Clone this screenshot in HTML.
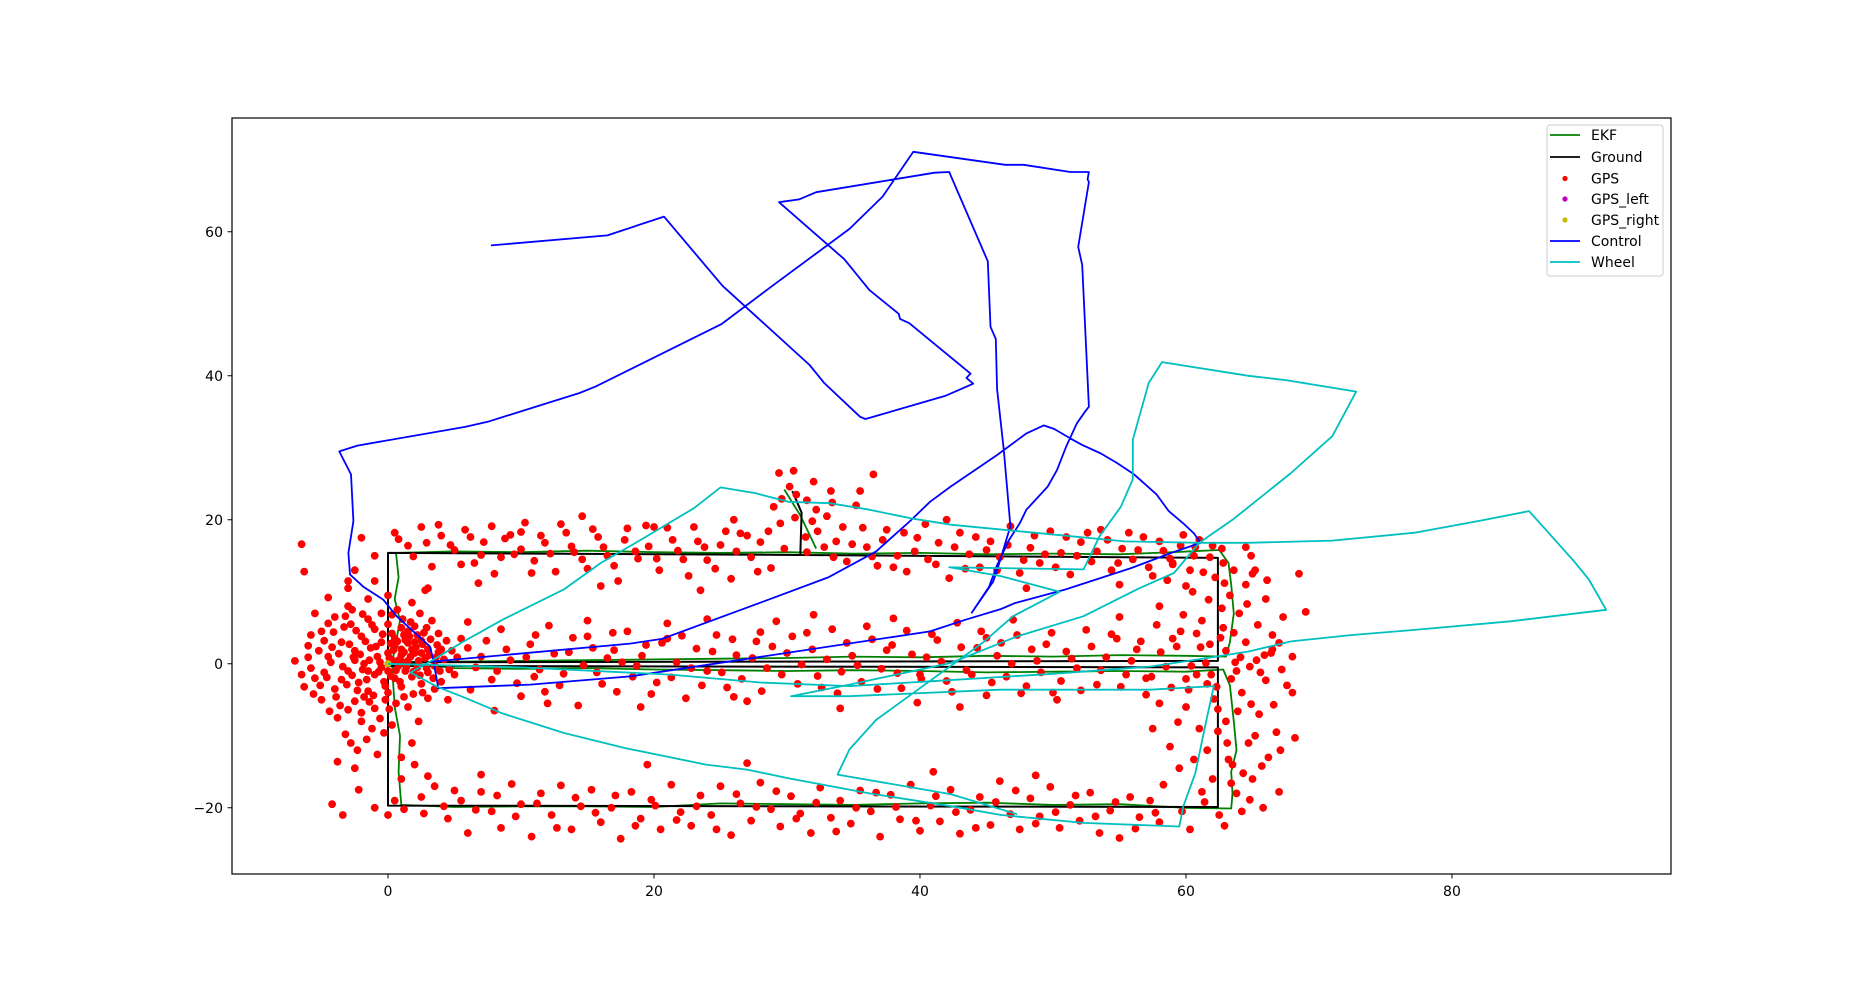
<!DOCTYPE html>
<html><head><meta charset="utf-8"><style>
html,body{margin:0;padding:0;background:#fff;}
svg{display:block;font-family:"DejaVu Sans","Liberation Sans",sans-serif;}
</style></head><body>
<svg id="chart" width="1855" height="982" viewBox="0 0 1855 982" xmlns="http://www.w3.org/2000/svg">
<rect x="0" y="0" width="1855" height="982" fill="#fff"/>
<g id="plot"></g>
<rect x="232" y="118" width="1439" height="756" fill="none" stroke="#000" stroke-width="1.2"/>
<g id="ticks"></g>
<g id="legend"></g>
</svg>
<script>
const xTicks = [0, 20, 40, 60, 80];
const yTicks = [-20, 0, 20, 40, 60];
const xDomain = [-11.73, 96.47];
const yDomain = [-29.2, 75.8];
const legendLabels = ["EKF","Ground","GPS","GPS_left","GPS_right","Control","Wheel"];

const groundPath = [[0,0],[0,15.4],[31,15.1],[62.4,14.7],[62.4,0.4],[0,0.2],null,[0,-0.3],[62.4,-0.5],[62.4,-19.9],[0,-19.7],[0,0],null,[30.4,24],[31.1,21],[31,15.1]];
const ekfPath = [[0.3,0],[0.6,3],[0.9,6],[0.5,9],[0.8,12],[0.6,15.4],[5,15.6],[10,15.5],[15,15.7],[20,15.5],[25,15.4],[30,15.5],[35,15.3],[40,15.4],[45,15.2],[50,15.3],[55,15.2],[59,15.5],[62.5,15.8],[63.2,14],[63.4,11],[63.6,7],[63.3,3],[63,1],[60,1.1],[55,1.2],[50,1.0],[45,1.1],[40,0.9],[35,1.0],[30,0.8],[25,0.7],[20,0.6],[15,0.5],[10,0.4],[5,0.3],[1,0.2],[5,-0.6],[10,-0.7],[15,-0.6],[20,-0.8],[25,-0.9],[30,-1],[35,-0.9],[40,-1.0],[45,-1.2],[50,-1.1],[55,-1.0],[60,-1.1],[62.8,-0.8],[63.3,-3],[63.6,-8],[63.8,-12],[63.4,-15],[63.5,-18],[63.4,-20.1],[60,-20],[55,-19.5],[50,-19.6],[45,-19.3],[40,-19.4],[35,-19.6],[30,-19.5],[25,-19.4],[20,-19.9],[15,-19.8],[10,-19.8],[5,-19.9],[1,-19.6],[0.8,-15],[0.9,-10],[0.5,-6],[0.4,-3],[0.3,0],null,[29.8,24.2],[31,20.6],[32.2,16]];
const controlPath = [[3.3,0.3],[18.2,2.8],[20.6,3.45],[28.6,8.9],[33.1,12.0],[36.7,15.6],[39.3,19.9],[40.75,22.5],[42.3,24.6],[45.8,29.0],[48.0,32.0],[49.3,33.1],[50.1,32.6],[51.3,31.3],[52.2,30.4],[53.6,29.2],[54.8,27.9],[56.1,26.3],[57.8,23.5],[58.7,21.2],[59.8,19.5],[60.6,18.1],[61.1,16.8],[58.9,15.4],[55.9,13.3],[50.9,10.3],[47.1,8.4],[46.1,7.6],[43.4,6.1],[40.75,4.5],[18.2,-1.76],[10.7,-2.9],[3.78,-3.4],[3.4,0.55],[3.16,2.4],[0.65,6.6],[-0.35,8.9],[-1.86,10.7],[-2.86,12.4],[-2.98,15.4],[-2.6,19.8],[-2.78,26.3],[-3.66,29.5],[-2.3,30.3],[5.8,32.9],[7.5,33.6],[14.4,37.6],[15.6,38.5],[25.1,47.2],[28.9,52.5],[34.7,60.4],[37.2,64.9],[39.5,71.1],[46.4,69.3],[47.8,69.3],[51.3,68.3],[52.7,68.3],[52.6,67.3],[52.7,66.9],[51.9,57.9],[52.2,55.4],[52.7,35.7],[52.4,35.0],[51.8,33.4],[51.0,30.2],[50.3,26.9],[49.6,24.6],[48.0,21.4],[47.5,19.5],[46.7,17.2],[45.8,13.7],[45.2,10.7],[43.9,7.1],[45.5,11.4],[45.8,13.0],[46.8,19.1],[46.3,29.7],[45.8,38.1],[45.7,45.1],[45.3,46.8],[45.1,55.9],[42.2,68.3],[41.1,68.2],[32.2,65.5],[30.9,64.5],[29.4,64.1],[34.3,56.2],[36.2,51.9],[38.4,48.6],[38.5,47.9],[39.2,47.3],[43.8,40.3],[43.5,39.7],[44.0,38.9],[41.9,37.2],[35.9,34.0],[35.5,34.3],[32.8,39.0],[31.7,41.5],[25.15,52.5],[20.75,62.1],[16.5,59.5],[7.74,58.1]];
const wheelPath = [[0,0],[10,-0.5],[21.2,-1.5],[28,-2.6],[34.7,-3.1],[42,-2.3],[50,-1.4],[57.3,-0.4],[61.6,0.8],[64.7,1.7],[67.9,3.1],[72.5,4.0],[77.2,4.7],[84.4,5.9],[91.6,7.5],[90.3,11.7],[89.1,14.4],[87.5,17.7],[85.8,21.2],[82.5,20],[77.2,18.2],[71,17.1],[64.7,16.8],[61,16.8],[55.4,17.0],[47.5,18.4],[42.4,19.3],[39.3,20.2],[36.2,21.4],[33.2,22.3],[30.1,22.5],[27.6,23.7],[25,24.5],[23,21.6],[19,17.2],[16,14],[13.2,10.3],[8.6,6.1],[5.5,2.9],[3.4,0.55],[1.7,-1.2],[3.7,-3.2],[5.5,-4.5],[8.6,-6.9],[13.2,-9.6],[17.8,-11.7],[23.9,-14],[27,-14.7],[30.1,-15.9],[36.2,-18],[42.4,-19.8],[46.1,-21.0],[52.3,-22.1],[59.5,-22.6],[59.8,-19.8],[60.7,-15.2],[61.6,-7.3],[62.1,-3.1],[57.3,-3.6],[46,-3.6],[34.7,-4.5],[30.3,-4.5],[34.7,-2.9],[42.3,0.1],[47.3,3.8],[52.3,6.6],[56.5,10.5],[59.1,12.6],[61,16.8],[63.5,20],[67.9,26.5],[71,31.6],[72.8,37.8],[67.5,39.4],[64.7,40],[58.2,41.9],[57.2,39],[56,31.1],[56,25.6],[55.1,21.8],[53.5,17.7],[52.3,13.1],[42.2,13.4],[46,12.2],[50.5,10.0],[47,6.6],[44.7,2.9],[36.7,-7.8],[34.7,-11.9],[33.8,-15.4],[42.3,-18.1],[47.3,-20.9]];
const gpsPoints = [[-2,17.5],[-1,15],[0.5,18.2],[1.5,16.4],[2.5,19],[3.3,13.5],[4,17.8],[5,15.8],[5.8,18.6],[6.5,14],[7.2,16.9],[8,12.5],[8.8,17.4],[9.5,15.2],[10.3,19.6],[11,14.3],[11.8,16.8],[12.6,12.8],[13.4,18.2],[14,15.5],[15,13.2],[15.8,17.6],[16.5,15],[17.3,11.5],[18,18.8],[18.8,14.6],[19.6,16.3],[20.4,13],[21,18.9],[21.8,15.7],[22.6,12.2],[23.3,17],[24,14.4],[25,16.5],[25.8,11.8],[26.5,18.1],[27.3,14.8],[28,16.9],[28.8,13.3],[29.5,19.5],[29,21.8],[30.2,24.6],[29.4,26.5],[31.5,22.7],[32.3,18.4],[32,25.3],[33,20.5],[33.7,17],[34.5,14.2],[35.2,22],[36,16.2],[36.8,13.6],[37.5,18.6],[38.3,15],[39,12.8],[39.8,17.5],[40.6,14.5],[41.4,16.8],[42.2,11.9],[43,18.2],[43.7,15.2],[44.5,13.4],[45.3,17],[46,14.8],[46.8,19.1],[47.5,12.6],[48.3,16.1],[49,14],[49.8,18.4],[50.6,15.4],[51.3,12.4],[52.1,16.9],[52.9,14.2],[53.6,18.6],[54.4,13],[55.2,16],[56,14.5],[56.8,17.6],[57.5,12.2],[58.3,15.7],[59,13.8],[59.8,17.9],[60.6,15],[61.3,12.7],[62,16.4],[62.8,14],[63.6,13],[64.5,16.2],[65,12.5],[-3,11.5],[-2.5,13],[36.5,26.3],[35.5,24],[26,20],[20,19],[14.6,20.5],[10,18.3],[3,10.5],[6.8,11.2],[16,10.8],[23.5,10.2],[31.5,15.5],[33.5,14.8],[42,20],[48,10.5],[55,11],[60,10.8],[-6.5,16.6],[-6.3,12.8],
[4,2],[5,-1.5],[5.5,3.5],[6.2,-3.6],[7,1],[7.8,-2.2],[8.5,4.8],[9.2,0.5],[10,-4.5],[10.7,2.7],[11.4,-0.8],[12.1,5.3],[12.9,-3],[13.6,1.6],[14.3,-5.8],[15,3.8],[15.7,-1.2],[16.5,0.8],[17.2,-3.9],[18,4.5],[18.7,-0.3],[19.4,2.6],[20.2,-2.6],[21,5.6],[21.7,0.2],[22.4,-4.8],[23.2,2.1],[24,-1],[24.7,4],[25.5,-3.3],[26.2,1.2],[27,-5.2],[27.7,3.1],[28.5,-0.6],[29.2,5.9],[30,1.5],[30.8,-2.8],[31.5,4.3],[32.3,-1.7],[33,0.6],[33.8,-4.1],[34.5,2.9],[35.3,-0.2],[36,5.2],[36.8,-3.5],[37.5,1.9],[38.3,-1.3],[39,4.6],[39.8,-5.4],[40.5,0.9],[41.3,3.3],[42,-2.4],[42.8,5.7],[43.5,-0.9],[44.3,2.2],[45,-4.4],[45.8,1.1],[46.5,-1.8],[47.3,4],[48,-3.1],[48.8,0.4],[49.5,2.7],[50.3,-5],[51,1.7],[51.8,-0.6],[52.5,4.7],[53.3,-2.9],[54,0.9],[54.8,3.5],[55.5,-1.5],[56.3,2],[57,-4.3],[57.8,5.4],[58.5,-0.4],[59.3,2.4],[60,-2.1],[60.8,4.2],[61.5,0.1],[62.3,-3.2],[63,1.8],[63.8,-1],[64.5,3],[65.3,0.5],[66,-2.3],[66.5,2],[67.2,-0.8],[68,1],[4.5,-5],[8,-6.5],[12,-5.5],[19,-6],[26,-4.6],[34,-6.2],[43,-6],[50,-4],[58,-5.5],[6,5.8],[15,6],[24,6.2],[38,6.3],[47,6.1],[55,6.5],[32,6.8],[28,4.4],[21,3.5],[45,3.6],[11,-1.8],[17,1.9],[40,-1.5],
[-7,0.4],[-6,2.5],[-5.5,-2],[-5,4.5],[-5,-5],[-4.5,1],[-4,6.5],[-4,-3.5],[-3.8,-7.5],[-3.5,3],[-3,-1],[-3,8],[-2.8,5.5],[-2.5,-5.2],[-2.5,1.8],[-2.2,-2.6],[-2,3.8],[-2,-8],[-1.8,0],[-1.5,6.2],[-1.5,-3.8],[-1.3,2.2],[-1,-1.5],[-1,4.8],[-1,-6.2],[-0.8,1],[-0.5,-0.5],[-0.5,3],[-0.3,-2.5],[0,1.5],[0,-1],[0,5.5],[0,-4],[0.3,0.5],[0.5,-2],[0.5,2.5],[0.7,7.5],[0.8,-0.3],[1,1.2],[1,-3.2],[1.2,4],[1.3,-1],[1.5,0.4],[1.5,2.9],[1.8,-1.8],[2,1.5],[2,5.2],[2.2,-0.5],[2.5,3.2],[2.5,-2.8],[2.8,0.8],[3,2],[3,-1.2],[3.3,6],[3.5,-0.3],[3.8,1.6],[4,-2.5],[-3.2,-9.8],[-2.3,-12],[-1.2,-9],[0.3,-8.5],[1.5,-6],[2.3,-8],[3,-4.8],[-4.5,9.2],[-3,10.5],[-1.5,9],[0,9.5],[1.8,8.5],[2.8,10.2],[-6.5,-1.5],[-5.5,7],[-4.8,-1.2],[-3.6,-5.8],[-2.7,7.5],[-1.8,-4.6],[-0.6,-7.6],[0.6,-5.5],[1.9,-4.2],[-1,11.5],[1.8,-11],[-0.8,-12.6],[2,-14],[-2.5,-14.5],[-3.8,-13.6],[-4.2,-19.5],[-3.4,-21],[-2.2,-17.5],[1,-16],[0.5,-19],[2.5,-18.5],[-1,-20],[0,-21],[1.2,-20.2],[2.7,-20.8],[3,-15.6],
[0.5,3.5],[1,2],[1.5,4.5],[2,3],[1,5],[1.8,2],[2.5,1.5],[0.8,0.5],[2.2,4],[1.3,3.3],[0.3,4.2],[0.2,2.8],[-1.5,-1],[-2.5,0.5],[-3.5,-2.2],[-4.2,2.3],[-0.2,-5],[-2,-6.8],
[3.5,-17],[4.5,-21.5],[5.5,-19],[6,-23.5],[7,-17.8],[7.8,-20.5],[8.5,-22.8],[9.3,-16.7],[10,-19.5],[10.8,-24],[11.5,-18],[12.3,-21],[13,-16.9],[13.8,-23],[14.5,-19.8],[15.3,-17.5],[16,-22],[16.8,-20],[17.5,-24.3],[18.3,-17.8],[19,-21.5],[19.8,-18.9],[20.5,-23],[21.3,-16.8],[22,-20.6],[22.8,-22.5],[23.5,-18.3],[24.3,-21],[25,-17],[25.8,-23.8],[26.5,-19.4],[27.3,-21.8],[28,-16.5],[28.8,-20.2],[29.5,-22.6],[30.3,-18.4],[31,-20.8],[31.8,-23.5],[32.5,-17.2],[33.3,-21.4],[34,-19],[34.8,-22.2],[35.5,-17.6],[36.3,-20.5],[37,-24],[37.8,-18.2],[38.5,-21.6],[39.3,-16.8],[40,-23.2],[40.8,-19.7],[41.5,-21.9],[42.3,-17.5],[43,-23.6],[43.8,-20.3],[44.5,-18.5],[45.3,-22.4],[46,-16.3],[46.8,-20.9],[47.5,-23],[48.3,-18.7],[49,-21.2],[49.8,-17.1],[50.5,-22.8],[51.3,-19.6],[52,-21.8],[52.8,-17.9],[53.5,-23.5],[54.3,-20.4],[55,-24.2],[55.8,-18.5],[56.5,-21.3],[57.3,-19],[58,-22],[7,-15.4],[19.5,-14],[27,-13.8],[41,-15],[48.7,-15.5],
[58,8],[59,3.5],[60,-6],[60.5,10],[61,-9],[61.2,6],[61.6,-12],[62,-16],[62.2,12],[62.5,-21],[62.8,5],[63,-8],[63.3,9.5],[63.5,-14],[63.8,-18],[64,7],[64.2,-4],[64.5,11],[64.7,-11],[65,-16],[65.2,13],[65.5,-7],[65.8,-20],[66,9],[66.2,-13],[66.5,4],[66.8,-9.5],[67,-17.8],[67.3,6.5],[67.6,-3],[68,-4],[68.2,-10.3],[68.5,12.5],[69,7.2],[59.5,-14.5],[58.8,-11.5],[59.7,-20.5],[60.3,-23],[61.4,-19.2],[62.9,-22.5],[64.2,-20.5],[59,14],[60.7,16.2],[62.7,16],[64.9,15],[57.5,-9],[57,-2],[58.3,-16.8],[60.8,-1.5],[61.8,2.7],[63.7,0.2],[65.6,-1.2],[66.4,1.5],[64.9,-5.6],[62.4,-6.3],[60.2,-3.6],[63.1,-11],[61.6,-2.8]];
const gpsExtraPoints = [
[-6,0.9],[-5.8,-0.6],[-5.2,1.8],[-5.1,-3],[-4.8,3.2],[-4.6,-1.9],[-4.3,0.2],[-4.1,4.4],[-3.9,-4.6],[-3.7,1.4],[-3.4,-0.4],[-3.3,5.1],[-3.1,-2.9],[-2.9,2.7],[-2.7,-1.6],[-2.6,0.9],[-2.4,4.6],[-2.3,-3.7],[-2.1,1.3],[-1.9,-0.8],[-1.7,3.1],[-1.6,-2.2],[-1.4,0.5],[-1.2,5.4],[-1.1,-4.4],[-0.9,2.4],[-0.7,-1.1],[-0.6,0.2],[-0.4,4.1],[-0.2,-3.1],[0.1,0.8],[0.2,-1.7],[0.4,1.9],[0.6,-0.9],[0.7,3.1],[0.9,-2.5],[1.1,0.2],[1.2,1.6],[1.4,-0.4],[1.6,3.8],[1.7,1],[1.9,-1.1],[2.1,2.3],[2.3,0.4],[2.4,-1.6],[2.6,2.7],[2.7,4.3],[2.9,-0.6],[3.1,1.2],[3.2,3.4],[3.4,-2],[3.6,0.9],[3.7,2.6],[3.9,-1],[4.2,0.6],[4.4,3.2],[4.6,-0.8],[4.8,1.8],[1.1,6.2],[2.4,7],[0.3,6.8],[1.7,5.8],[2.9,5],[3.8,4.2],[-0.5,7],[-1.9,6.9],[-3.2,6.6],[-4.5,5.6],[-5.8,4],[-6.3,-3.2],[-5.6,-4.2],[-4.4,-6.6],[-3,-6.4],[-1.4,-5.3],[0.1,-6.3],[1.2,-4.6],[2.6,-4],[3.5,-3.5],[-0.3,-9.6],[-2.8,-11],[-1.6,-10.5],[1,-13],
[5.2,0.9],[6,2.2],[6.6,-0.5],[7.4,3.2],[8.2,-1],[8.9,2],[9.7,-2.7],[10.4,0.9],[11.1,4],[11.8,-3.9],[12.5,1.4],[13.2,-1.4],[13.9,3.6],[14.7,-0.2],[15.4,2.2],[16.1,-2.8],[16.9,4.3],[17.6,0.2],[18.4,-1.8],[19.1,1.1],[19.8,-4.2],[20.6,2.9],[21.3,-1.9],[22.1,3.9],[22.8,-0.6],[23.6,-3],[24.4,1.7],[25.1,-1.2],[25.9,3.4],[26.6,-2.1],[27.4,0.8],[28.1,-3.8],[28.9,2.4],[29.6,-1.5],[30.4,3.8],[31.1,-0.1],[31.9,2],[32.6,-3.3],[33.4,4.8],[34.1,-1.1],[34.9,1.1],[35.6,-2.5],[36.4,3.4],[37.1,-0.7],[37.9,2.6],[38.6,-3.4],[39.4,1.3],[40.1,-2.1],[40.9,4.1],[41.6,0.3],[42.4,-3.9],[43.1,2.3],[43.9,-1.5],[44.6,4.5],[45.4,-2.6],[46.1,2.9],[46.9,0],[47.6,-4.1],[48.4,2],[49.1,-1.2],[49.9,4.3],[50.6,-2.4],[51.4,0.7],[52.1,-3.7],[52.9,2.4],[53.6,-0.9],[54.4,4.1],[55.1,-3.2],[55.9,0.4],[56.6,3.1],[57.4,-1.8],[58.1,1.6],[58.9,-3.3],[59.6,4.5],[60.4,-0.3],[61.1,2.3],[61.9,-1.5],[62.6,3.6],[63.4,-2.1],[64.1,0.9],[64.8,-0.4],[65.9,1.2],[67,2.9],
[0.8,17.3],[1.9,14.9],[2.9,16.8],[3.8,19.3],[4.7,16.5],[5.5,13.8],[6.2,17.6],[7,15.1],[7.8,19.1],[8.5,14.8],[9.2,17.9],[10,15.9],[10.8,12.6],[11.5,17.8],[12.2,15.3],[13,19.4],[13.8,16.3],[14.6,14.5],[15.4,18.7],[16.2,16.2],[17,13.6],[17.8,17.2],[18.6,15.6],[19.4,19.2],[20.2,14.6],[21.4,17.2],[22.2,14.5],[23,19],[23.8,16.2],[24.6,13.2],[25.4,18.4],[26.2,15.6],[27,17.8],[27.8,12.8],[28.6,18.4],[29.8,16],[30.6,20.3],[31.4,17.6],[32.2,21.4],[32.8,16.2],[33.4,22.4],[34.2,19],[34.9,16.6],[35.7,18.9],[36.4,14.9],[37.2,17.2],[38,13.4],[38.8,18.2],[39.6,15.6],[40.4,19.4],[41.2,13.8],[42.6,16.2],[43.4,13.2],[44.2,17.6],[45,15.8],[45.8,13],[46.6,16.5],[47.8,14.4],[48.6,17.8],[49.4,15.2],[50.2,13.4],[51,17.6],[51.8,15],[52.6,18.2],[53.3,15.6],[54.1,17.2],[54.9,14],[55.7,18.2],[56.4,15.8],[57.2,13.4],[58,17],[58.8,14.6],[59.6,16.4],[60.3,13],[61,17.2],[61.8,14.8],[30.7,23.5],[31.9,19.8],[33.3,24],[30.5,26.8],[29.6,22.9],
[4.2,-19.8],[5,-17.6],[6.6,-20.3],[8.2,-18.3],[9.6,-21.2],[11.2,-19.4],[12.7,-22.8],[14.1,-18.6],[15.6,-20.7],[17.1,-18.3],[18.6,-22.5],[20.1,-19.7],[21.7,-21.7],[23.2,-19.8],[24.7,-23],[26.2,-18.1],[27.7,-19.9],[29.2,-17.7],[30.7,-21.5],[32.2,-19.3],[33.7,-23.3],[35.2,-20],[36.7,-17.9],[38.2,-19.9],[39.7,-21.8],[41.2,-18.4],[42.7,-20.6],[44.2,-22.8],[45.7,-19.2],[47.2,-17.6],[48.7,-22.2],[50.2,-20.6],[51.7,-18.3],[53.2,-21.2],[54.7,-19.2],[56.2,-22.9],[57.7,-20.7],
[61.7,8.9],[62.4,-9.4],[62.9,11.2],[63.2,-13.3],[63.6,4.3],[63.9,-6.6],[64.3,-15.2],[64.6,8.3],[64.8,-18.9],[65.2,-10],[65.4,5.4],[65.7,-14.2],[66.1,11.6],[66.6,-5.7],[67.1,-12],[61.2,-17.8],[60.6,-13.3],[59.4,-8.1],[59.8,6.8],[58.6,11.6],[62.1,-4.9],[63.4,-16.6],[62.7,7.7]];
const gpsLeftPoints = [[0,0]];
const gpsRightPoints = [[0,0]];

const NS = "http://www.w3.org/2000/svg";
const AX = {left:232, right:1671, top:118, bottom:874};
function sx(v){ return AX.left + (v - xDomain[0]) / (xDomain[1]-xDomain[0]) * (AX.right-AX.left); }
function sy(v){ return AX.bottom - (v - yDomain[0]) / (yDomain[1]-yDomain[0]) * (AX.bottom-AX.top); }
function mk(tag, attrs, parent){ const e=document.createElementNS(NS,tag); for(const k in attrs) e.setAttribute(k, attrs[k]); parent.appendChild(e); return e; }
function pathD(pts){ let d="", pen=false; for(const p of pts){ if(!p){pen=false;continue;} d += (pen?"L":"M")+sx(p[0]).toFixed(1)+" "+sy(p[1]).toFixed(1)+" "; pen=true; } return d; }

const plot = document.getElementById("plot");
const ekf = mk("path",{d:pathD(ekfPath),fill:"none",stroke:"#008000","stroke-width":1.8,"stroke-linejoin":"round"},plot);


const gr = mk("path",{d:pathD(groundPath),fill:"none",stroke:"#000","stroke-width":2,"stroke-linejoin":"round"},plot);


const gpsG = mk("g",{},plot);


for(const p of gpsPoints.concat(gpsExtraPoints)){
  const c = mk("circle",{cx:sx(p[0]).toFixed(1),cy:sy(p[1]).toFixed(1),r:3.9,fill:"#ff0000"},gpsG);
  
  
}
for(const p of gpsLeftPoints){
  const c = mk("circle",{cx:sx(p[0]),cy:sy(p[1]),r:3.6,fill:"#bf00bf"},plot);
  
  
}
for(const p of gpsRightPoints){
  const c = mk("circle",{cx:sx(p[0]),cy:sy(p[1]),r:3.6,fill:"#bfbf00"},plot);
  
  
}
const ctl = mk("path",{d:pathD(controlPath),fill:"none",stroke:"#0000ff","stroke-width":1.8,"stroke-linejoin":"round"},plot);


const wh = mk("path",{d:pathD(wheelPath),fill:"none",stroke:"#00bfbf","stroke-width":1.8,"stroke-linejoin":"round"},plot);



const ticks = document.getElementById("ticks");
for(const t of xTicks){
  const x = sx(t);
  const l = mk("line",{x1:x,x2:x,y1:AX.bottom,y2:AX.bottom+4.5,stroke:"#000","stroke-width":1},ticks);
  
  
  const tx = mk("text",{x:x,y:AX.bottom+22,"text-anchor":"middle","font-size":14,fill:"#000"},ticks);
  tx.textContent = String(t).replace("-","\u2212");
  
  
}
for(const t of yTicks){
  const y = sy(t);
  const l = mk("line",{x1:AX.left-4.5,x2:AX.left,y1:y,y2:y,stroke:"#000","stroke-width":1},ticks);
  
  
  const tx = mk("text",{x:AX.left-9,y:y+5,"text-anchor":"end","font-size":14,fill:"#000"},ticks);
  tx.textContent = String(t).replace("-","\u2212");
  
  
}

const lg = document.getElementById("legend");
const box = mk("rect",{x:1547,y:125,width:116,height:151,rx:3,fill:"#fff","fill-opacity":0.8,stroke:"#cccccc","stroke-width":1},lg);


const legendColors = ["#008000","#000000","#ff0000","#bf00bf","#bfbf00","#0000ff","#00bfbf"];
const legendKinds = ["line","line","dot","dot","dot","line","line"];
const legendY = [135,157,178.5,199,220,241,262];
legendLabels.forEach((lab,i)=>{
  const g = mk("g",{},lg);
  
  
  const y = legendY[i];
  if(legendKinds[i]==="line") mk("line",{x1:1550,x2:1580,y1:y,y2:y,stroke:legendColors[i],"stroke-width":1.8},g);
  else mk("circle",{cx:1565,cy:y,r:2.6,fill:legendColors[i]},g);
  const t = mk("text",{x:1591,y:y+5,"font-size":14,fill:"#000"},g);
  t.textContent = lab;
});
</script>
</body></html>
